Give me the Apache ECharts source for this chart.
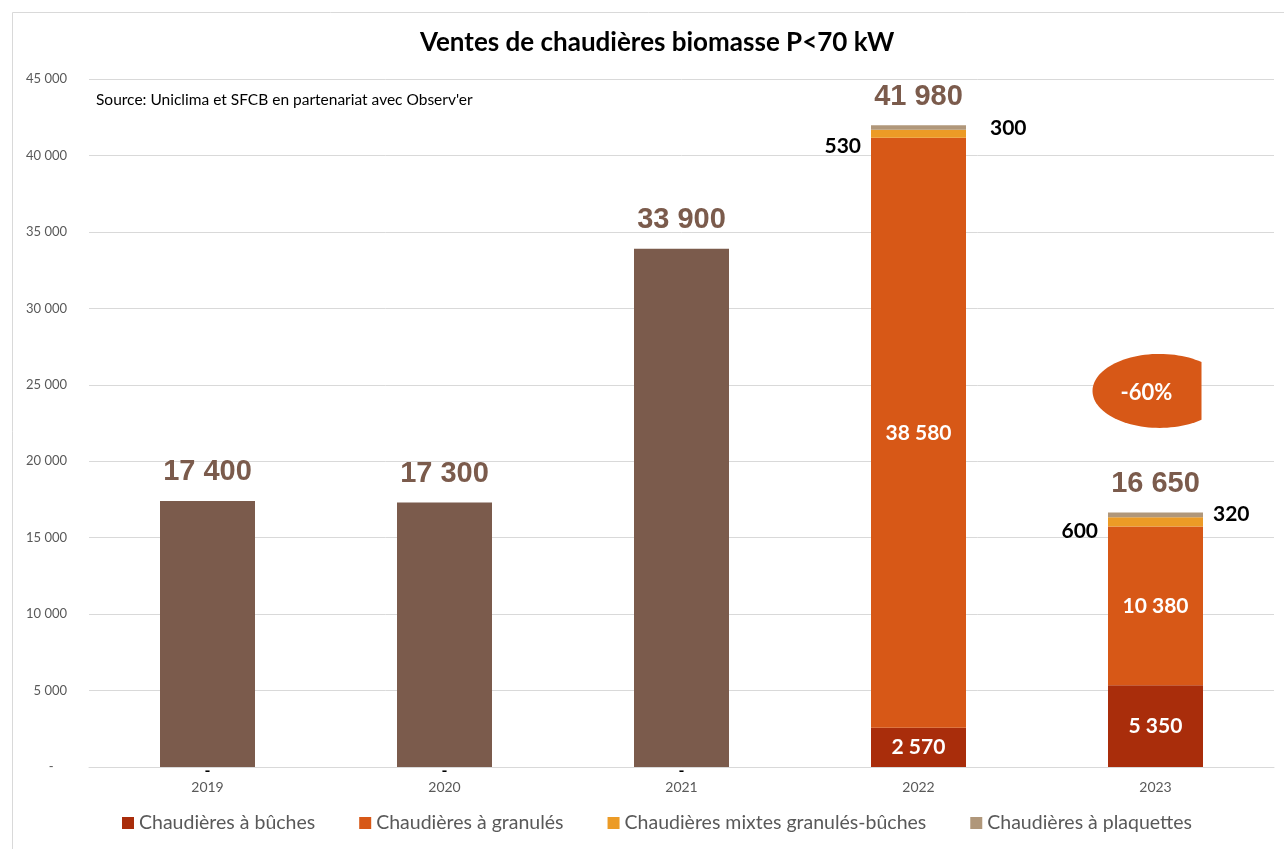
<!DOCTYPE html>
<html>
<head>
<meta charset="utf-8">
<script src="https://cdn.jsdelivr.net/npm/echarts@6/dist/echarts.min.js"></script>
<style>
html,body{margin:0;padding:0;background:#fff;}
#c{width:1284px;height:849px;}
</style>
</head>
<body>
<div id="c"></div>
<script>
// ---- data ----
const years = ['2019', '2020', '2021', '2022', '2023'];
const totals = [17400, 17300, 33900, 41980, 16650];
const buches = [0, 0, 0, 2570, 5350];
const granules = [0, 0, 0, 38580, 10380];
const mixtes = [0, 0, 0, 530, 600];
const plaquettes = [0, 0, 0, 300, 320];
const seriesNames = ['Chaudières à bûches', 'Chaudières à granulés', 'Chaudières mixtes granulés-bûches', 'Chaudières à plaquettes'];
const yTicks = { min: 0, max: 45000, interval: 5000 };
const titleText = 'Ventes de chaudières biomasse P<70 kW';
const sourceText = "Source: Uniclima et SFCB en partenariat avec Observ'er";
const changeText = '-60%';

const colors = {
  buches: '#A92D0B', granules: '#D75817', mixtes: '#EC9B26', plaquettes: '#B0977A', total: '#7B5B4C'
};
const fmt = n => String(n).replace(/\B(?=(\d{3})+(?!\d))/g, ' ');
const FONT = 'Lato';

// total bars: full value for early years (no breakdown), zero-height marker on stacked years
const totalBars = totals.map((t, i) => buches[i] + granules[i] + mixtes[i] + plaquettes[i] > 0 ? 0 : t);

const chart = echarts.init(document.getElementById('c'), null, { renderer: 'canvas' });

const inLabel = { show: true, position: 'inside', color: '#fff', fontFamily: FONT, fontWeight: 'bold', fontSize: 21 };

const option = {
  animation: false,
  backgroundColor: '#fff',
  title: {
    text: titleText, left: 415, top: 25,
    textStyle: { fontFamily: FONT, fontWeight: 'bold', fontSize: 26, color: '#000' }
  },
  grid: { left: 89, right: 10, top: 79, bottom: 82 },
  legend: {
    data: seriesNames, bottom: 11, left: 117, itemWidth: 12, itemHeight: 12, itemGap: 44,
    icon: 'rect',
    textStyle: { fontFamily: FONT, fontSize: 19.5, color: '#595959' }
  },
  xAxis: {
    type: 'category', data: years,
    axisLine: { lineStyle: { color: '#D9D9D9', width: 1 } },
    axisTick: { show: false },
    axisLabel: { fontFamily: FONT, fontSize: 14, color: '#595959', margin: 13 }
  },
  yAxis: {
    type: 'value', min: yTicks.min, max: yTicks.max, interval: yTicks.interval,
    axisLine: { show: false }, axisTick: { show: false },
    splitLine: { lineStyle: { color: '#D9D9D9' } },
    axisLabel: {
      fontFamily: FONT, fontSize: 13, color: '#595959', margin: 22,
      formatter: v => v === 0 ? '-    ' : fmt(v)
    }
  },
  series: [
    {
      name: seriesNames[0], type: 'bar', stack: 's', barWidth: 95, itemStyle: { color: colors.buches },
      data: buches.map(v => v === 0
        ? { value: 0, label: { show: true, position: 'bottom', distance: -4, formatter: '-', color: '#000', fontWeight: 'bold', fontSize: 16, fontFamily: FONT } }
        : { value: v, label: Object.assign({}, inLabel, { formatter: fmt(v) }) })
    },
    {
      name: seriesNames[1], type: 'bar', stack: 's', barWidth: 95, itemStyle: { color: colors.granules },
      data: granules.map(v => v === 0 ? { value: 0 } : { value: v, label: Object.assign({}, inLabel, { formatter: fmt(v) }) })
    },
    {
      name: seriesNames[2], type: 'bar', stack: 's', barWidth: 95, itemStyle: { color: colors.mixtes },
      data: mixtes.map((v, i) => v === 0 ? { value: 0 } : {
        value: v,
        label: { show: true, position: 'left', distance: 10, offset: [0, i === 3 ? 12 : 9], formatter: fmt(v), color: '#000', fontFamily: FONT, fontWeight: 'bold', fontSize: 21 }
      })
    },
    {
      name: seriesNames[3], type: 'bar', stack: 's', barWidth: 95, itemStyle: { color: colors.plaquettes },
      data: plaquettes.map((v, i) => v === 0 ? { value: 0 } : {
        value: v,
        label: { show: true, position: 'right', distance: i === 3 ? 24 : 10, offset: [0, i === 3 ? 1 : -1], formatter: fmt(v), color: '#000', fontFamily: FONT, fontWeight: 'bold', fontSize: 21 }
      })
    },
    {
      name: 'Total', type: 'bar', stack: 's', barWidth: 95, itemStyle: { color: colors.total },
      data: totalBars.map((v, i) => ({
        value: v,
        label: { show: true, position: 'top', distance: 14, formatter: fmt(totals[i]), color: colors.total, fontFamily: 'Liberation Sans', fontWeight: 'bold', fontSize: 29 }
      }))
    }
  ],
  graphic: [
    {
      type: 'rect', left: 10, top: 10, silent: true,
      shape: { x: 0, y: 0, width: 1300, height: 860 },
      style: { fill: 'none', stroke: '#D9D9D9', lineWidth: 1 }
    },
    {
      type: 'text', left: 96, top: 92,
      style: { text: sourceText, fontFamily: FONT, fontSize: 15.5, fill: '#000' }
    }
  ]
};
chart.setOption(option);

// -60% badge anchored to the 2023 category: ellipse cut flat on its right side
const p = chart.convertToPixel({ xAxisIndex: 0, yAxisIndex: 0 }, [years[4], 24600]);
const cx = p[0] + 4, cy = p[1], rx = 67, ry = 37, cutX = p[0] + 46;
const a0 = Math.acos((cutX - cx) / rx);
const pts = [];
for (let k = 0; k <= 80; k++) {
  const a = a0 + (2 * Math.PI - 2 * a0) * k / 80;
  pts.push([cx + rx * Math.cos(a), cy - ry * Math.sin(a)]);
}
chart.setOption({
  graphic: [
    {}, {},
    {
      type: 'polygon', silent: true, z: 100,
      shape: { points: pts },
      style: { fill: colors.granules }
    },
    {
      type: 'text', x: p[0] - 9, y: cy + 2, silent: true, z: 101,
      style: { text: changeText, fontFamily: FONT, fontWeight: 'bold', fontSize: 22, fill: '#fff', align: 'center', verticalAlign: 'middle' }
    }
  ]
});
</script>
</body>
</html>
